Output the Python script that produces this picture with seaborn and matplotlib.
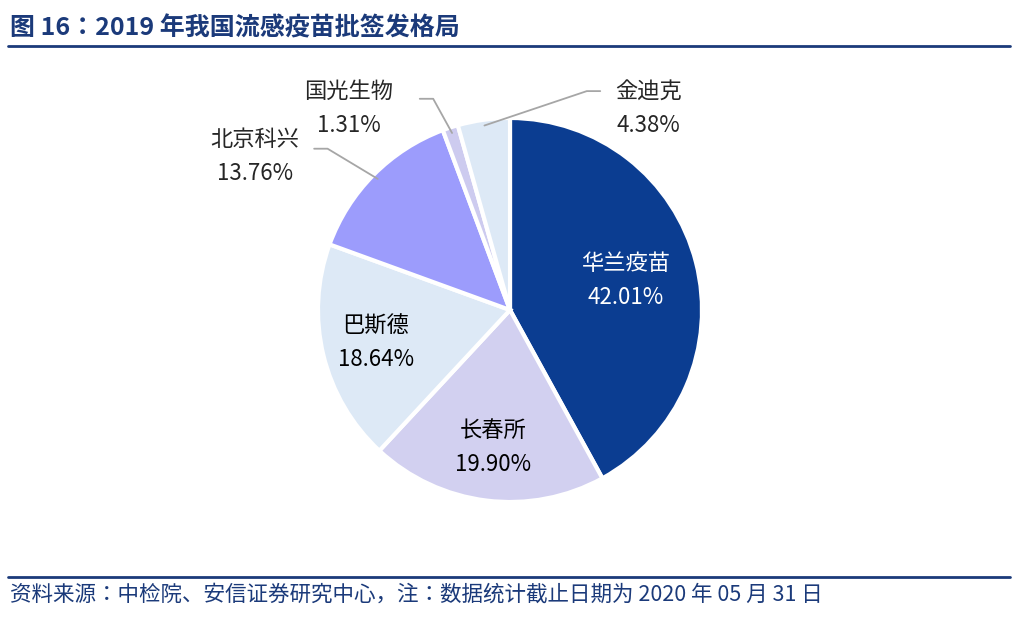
import matplotlib
matplotlib.use("Agg")
import matplotlib.pyplot as plt
from matplotlib import font_manager
import numpy as np
import seaborn as sns

sns.set_theme(style="white")
cjk = [f.name for f in font_manager.fontManager.ttflist if "CJK" in f.name]
fam = next((n for n in ["Noto Sans CJK SC", "Noto Sans CJK JP"] if n in cjk), cjk[0] if cjk else "DejaVu Sans")
plt.rcParams["font.family"] = "sans-serif"
plt.rcParams["font.sans-serif"] = [fam, "DejaVu Sans"]

names = ["华兰疫苗", "长春所", "巴斯德", "北京科兴", "国光生物", "金迪克"]
shares = [42.01, 19.90, 18.64, 13.76, 1.31, 4.38]
colors = ["#0B3D91", "#D2D0F0", "#DDE9F6", "#9C9CFC", "#CDCBEF", "#DDE9F6"]
inside = [True, True, True, False, False, False]
text_pos = {"北京科兴": (-1.33, 0.80), "国光生物": (-0.84, 1.05), "金迪克": (0.72, 1.05)}
elbow = {"北京科兴": (-0.95, 0.84), "国光生物": (-0.40, 1.10), "金迪克": (0.40, 1.14)}

fig = plt.figure(figsize=(10.17, 6.18), dpi=100)
ax = fig.add_axes([110 / 1017, 58 / 618, 800 / 1017, 500 / 618])
wedges, _ = ax.pie(shares, colors=colors, startangle=90, counterclock=False,
                   wedgeprops=dict(edgecolor="white", linewidth=3))
ax.set_xlim(-2.083, 2.083)
ax.set_ylim(-1.302, 1.302)
ax.set_aspect("equal")
ax.axis("off")

for w, name, val, ins in zip(wedges, names, shares, inside):
    mid = np.deg2rad((w.theta1 + w.theta2) / 2)
    label = f"{name}\n{val:.2f}%"
    if ins:
        r = 0.62 if name == "华兰疫苗" else 0.72
        tc = "white" if name == "华兰疫苗" else "black"
        ax.text(r * np.cos(mid), r * np.sin(mid), label, ha="center", va="center",
                fontsize=16, color=tc, linespacing=1.6)
    else:
        tx, ty = text_pos[name]
        ex, ey = elbow[name]
        px, py = 0.97 * np.cos(mid), 0.97 * np.sin(mid)
        sx = ex - 0.07 if ex < 0 else ex + 0.07
        ax.plot([sx, ex, px], [ey, ey, py], color="#A6A6A6", lw=1.3)
        ax.text(tx, ty, label, ha="center", va="center", fontsize=16, linespacing=1.6)

navy = "#1B3A7A"
fig.text(10 / 1017, 1 - 28 / 618, "图 16：2019 年我国流感疫苗批签发格局", fontsize=18,
         fontweight="bold", color=navy, va="center")
fig.add_artist(plt.Line2D([8 / 1017, 1010 / 1017], [1 - 46 / 618] * 2, color=navy, lw=2))
fig.add_artist(plt.Line2D([8 / 1017, 1010 / 1017], [1 - 577 / 618] * 2, color=navy, lw=2))
fig.text(10 / 1017, 1 - 595 / 618, "资料来源：中检院、安信证券研究中心，注：数据统计截止日期为 2020 年 05 月 31 日",
         fontsize=15.5, color=navy, va="center", style="italic")

fig.savefig("out.png", dpi=100)
